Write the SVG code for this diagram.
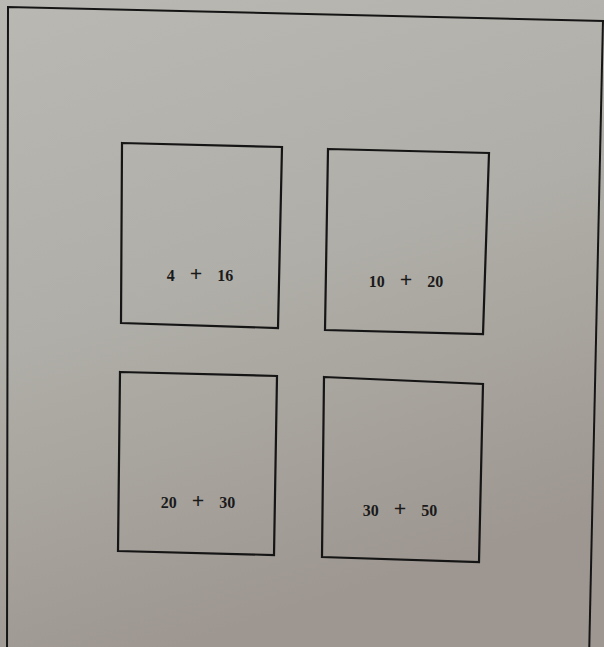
<svg xmlns="http://www.w3.org/2000/svg" width="604" height="647" viewBox="0 0 604 647">
<defs>
<linearGradient id="bg" x1="0" y1="0" x2="0.3" y2="1">
<stop offset="0" stop-color="#b9b8b2"/>
<stop offset="0.5" stop-color="#b0aea8"/>
<stop offset="1" stop-color="#9e9791"/>
</linearGradient>
</defs>
<style>
.box{fill:none;stroke:#151515;stroke-width:2.2;stroke-linejoin:miter}
.frame{fill:none;stroke:#151515;stroke-width:2}
.lbl{font-family:"Liberation Serif",serif;font-size:16px;font-weight:bold;fill:#1a1a1a;text-anchor:middle;word-spacing:11px}
.pl{font-size:22px;font-weight:bold}
</style>
<rect width="604" height="647" fill="url(#bg)"/>
<polyline class="frame" points="7,660 8,7 604,21"/>
<line class="frame" x1="603" y1="20" x2="589" y2="660"/>
<g id="n1">
<polygon class="box" points="122,143 282,147 278,328 121,323"/>
<text class="lbl" x="200" y="281">4 <tspan class="pl">+</tspan> 16</text>
</g>
<g id="n2">
<polygon class="box" points="328,149 489,153 483,334 325,330"/>
<text class="lbl" x="406" y="287">10 <tspan class="pl">+</tspan> 20</text>
</g>
<g id="n3">
<polygon class="box" points="120,372 277,376 274,555 118,551"/>
<text class="lbl" x="198" y="508">20 <tspan class="pl">+</tspan> 30</text>
</g>
<g id="n4">
<polygon class="box" points="324,377 483,384 479,562 322,557"/>
<text class="lbl" x="400" y="516">30 <tspan class="pl">+</tspan> 50</text>
</g>
<g id="connectors"/>
</svg>
